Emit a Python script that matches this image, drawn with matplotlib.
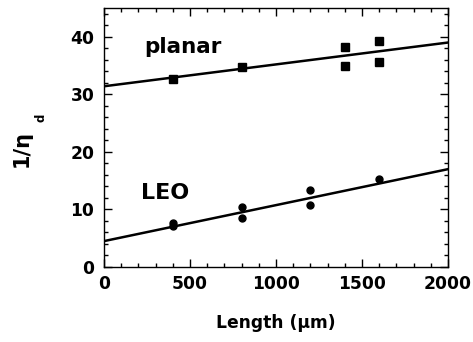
import matplotlib
matplotlib.use("Agg")
import matplotlib.pyplot as plt
from matplotlib.ticker import MultipleLocator

plt.rcParams['font.family'] = ['DejaVu Sans']
plt.rcParams['font.weight'] = 'bold'
plt.rcParams['mathtext.fontset'] = 'dejavusans'

planar_x = [400, 800, 1400, 1400, 1600, 1600]
planar_y = [32.6, 34.8, 38.3, 35.0, 39.2, 35.7]
planar_fit = [31.4, 39.0]

leo_x = [400, 400, 800, 800, 1200, 1200, 1600]
leo_y = [7.7, 7.1, 10.4, 8.5, 13.3, 10.7, 15.25]
leo_fit = [4.5, 17.0]

fit_x = [0, 2000]

W, H = 473, 342
fig = plt.figure(figsize=(W/100, H/100), dpi=100)
ax = fig.add_axes([104/W, 1-267/H, 344/W, 259/H])

ax.plot(fit_x, planar_fit, color='black', lw=1.8)
ax.plot(fit_x, leo_fit, color='black', lw=1.8)
ax.plot(planar_x, planar_y, 's', color='black', ms=6, clip_on=False)
ax.plot(leo_x, leo_y, 'o', color='black', ms=5, clip_on=False)

ax.set_xlim(0, 2000)
ax.set_ylim(0, 45)
ax.xaxis.set_major_locator(MultipleLocator(500))
ax.xaxis.set_minor_locator(MultipleLocator(100))
ax.yaxis.set_major_locator(MultipleLocator(10))
ax.yaxis.set_minor_locator(MultipleLocator(2))
ax.tick_params(which='both', direction='in', top=True, right=True, width=1)
ax.tick_params(which='major', length=6, labelsize=12.3)
ax.tick_params(axis='y', which='major', pad=7)
ax.tick_params(axis='x', which='major', pad=6)
ax.tick_params(which='minor', length=3)
for s in ax.spines.values():
    s.set_linewidth(1)

ax.text(235, 38.3, 'planar', fontsize=15.5, fontweight='bold', va='center', ha='left')
ax.text(218, 12.9, 'LEO', fontsize=16, fontweight='bold', va='center', ha='left')

ax.set_xlabel('Length (μm)', fontsize=12.3, fontweight='bold', labelpad=15)

# y-axis label 1/η with a deep subscript d
fig.text(28/W, 1-167/H, '1/η', fontsize=15, fontweight='bold', rotation=90,
         rotation_mode='anchor', ha='left', va='baseline')
fig.text(44/W, 1-122/H, 'd', fontsize=8.5, fontweight='bold', rotation=90,
         rotation_mode='anchor', ha='left', va='baseline')

fig.savefig('out.png', dpi=100)
